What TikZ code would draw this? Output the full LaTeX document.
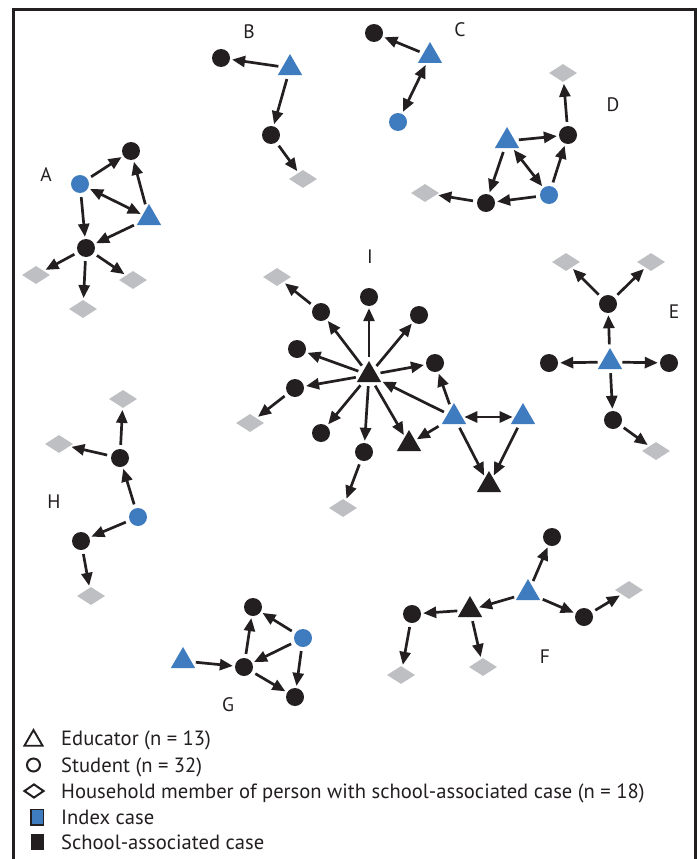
\documentclass[tikz,border=0pt]{standalone}
\usepackage{fontspec}
\setmainfont{PT Sans}
\usetikzlibrary{shapes.geometric,arrows.meta}
\definecolor{blu}{RGB}{63,124,191}
\definecolor{gry}{RGB}{190,191,195}
\definecolor{blk}{RGB}{35,31,32}
\begin{document}
\begin{tikzpicture}[x=1pt,y=-1pt,
 stu/.style={circle,fill=blk,minimum size=18pt,inner sep=0},
 ind/.style={circle,fill=blu,minimum size=18pt,inner sep=0},
 edu/.style={regular polygon,regular polygon sides=3,fill=blk,minimum size=28pt,inner sep=0},
 edi/.style={edu,fill=blu},
 hh/.style={diamond,fill=gry,minimum width=28pt,minimum height=18pt,inner sep=0},
 lab/.style={font=\fontsize{19.5}{22}\selectfont,text=blk,inner sep=0},
 legtxt/.style={font=\fontsize{20.6}{24}\selectfont,text=blk,anchor=base west,inner sep=0},
 arr/.style={draw=blk,line width=2.7pt,-{Triangle[length=13pt,width=11pt]},shorten >=2pt,shorten <=4pt},
 darr/.style={arr,{Triangle[length=13pt,width=11pt]}-{Triangle[length=13pt,width=11pt]},shorten <=2pt},
]
\fill[white] (0,0) rectangle (699,859);
\useasboundingbox (0,0) rectangle (699,859);
\draw[blk,line width=3pt] (13,862) -- (13,10) -- (695.5,10) -- (695.5,862);

% ---------- A ----------
\node[lab] (la) at (46,175) {A};
\node[ind] (a1) at (80,184) {};
\node[stu] (a2) at (131,151) {};
\node[edi] (a3) at (149,218) {};
\node[stu] (a4) at (86,248) {};
\node[hh] (a5) at (36,275) {};
\node[hh] (a6) at (133,280) {};
\node[hh] (a7) at (83,309) {};
\draw[arr] (a1) -- (a2);
\draw[arr] (a3) -- (a2);
\draw[darr] (a1) -- (a3);
\draw[arr] (a1) -- (a4);
\draw[arr] (a3) -- (a4);
\draw[arr] (a4) -- (a5);
\draw[arr] (a4) -- (a6);
\draw[arr] (a4) -- (a7);

% ---------- B ----------
\node[lab] (lb) at (249,32) {B};
\node[stu] (b1) at (221,58) {};
\node[edi] (b2) at (290,68) {};
\node[stu] (b3) at (271,135) {};
\node[hh] (b4) at (303,179) {};
\draw[arr] (b2) -- (b1);
\draw[arr] (b2) -- (b3);
\draw[arr] (b3) -- (b4);

% ---------- C ----------
\node[lab] (lc) at (460,30) {C};
\node[stu] (c1) at (374,33) {};
\node[edi] (c2) at (430,56) {};
\node[ind] (c3) at (398,122) {};
\draw[arr] (c2) -- (c1);
\draw[darr] (c2) -- (c3);

% ---------- D ----------
\node[lab] (ld) at (613,105) {D};
\node[hh] (d1) at (563,73) {};
\node[stu] (d2) at (568,135) {};
\node[edi] (d3) at (507,141) {};
\node[ind] (d4) at (549,195) {};
\node[stu] (d5) at (486,203) {};
\node[hh] (d6) at (425,193) {};
\draw[arr] (d3) -- (d2);
\draw[arr] (d2) -- (d1);
\draw[arr] (d4) -- (d2);
\draw[darr] (d3) -- (d4);
\draw[arr] (d3) -- (d5);
\draw[arr] (d4) -- (d5);
\draw[arr] (d5) -- (d6);

% ---------- E ----------
\node[lab] (le) at (674,312) {E};
\node[hh] (e1) at (566,262) {};
\node[hh] (e2) at (651,262) {};
\node[stu] (e3) at (608,304) {};
\node[edi] (e4) at (610,362) {};
\node[stu] (e5) at (549,363) {};
\node[stu] (e6) at (669,363) {};
\node[stu] (e7) at (613,420) {};
\node[hh] (e8) at (656,451) {};
\draw[arr] (e3) -- (e1);
\draw[arr] (e3) -- (e2);
\draw[arr] (e4) -- (e3);
\draw[arr] (e4) -- (e5);
\draw[arr] (e4) -- (e6);
\draw[arr] (e4) -- (e7);
\draw[arr] (e7) -- (e8);

% ---------- I ----------
\node[lab] (li) at (370,257) {I};
\node[edu] (i0) at (369,375) {};
\node[stu] (i1) at (369,297) {};
\node[stu] (i2) at (321,312) {};
\node[stu] (i3) at (419,315) {};
\node[stu] (i4) at (297,349) {};
\node[stu] (i5) at (435,363) {};
\node[stu] (i6) at (295,388) {};
\node[stu] (i7) at (321,433) {};
\node[stu] (i8) at (364,452) {};
\node[hh] (i9) at (277,277) {};
\node[hh] (i10) at (250,423) {};
\node[hh] (i11) at (343,508) {};
\node[edu] (i12) at (409,444) {};
\node[edi] (i13) at (454,417) {};
\node[edi] (i14) at (523,417) {};
\node[edu] (i15) at (489,485) {};
\foreach \t in {i1,i2,i3,i4,i5,i6,i7,i8,i12} \draw[arr] (i0) -- (\t);
\draw[arr] (i2) -- (i9);
\draw[arr] (i6) -- (i10);
\draw[arr] (i8) -- (i11);
\draw[arr] (i13) -- (i0);
\draw[arr] (i13) -- (i5);
\draw[arr] (i13) -- (i12);
\draw[darr] (i13) -- (i14);
\draw[arr] (i13) -- (i15);
\draw[arr] (i14) -- (i15);

% ---------- H ----------
\node[lab] (lh) at (54,502) {H};
\node[hh] (h1) at (123,399) {};
\node[hh] (h2) at (59,444) {};
\node[stu] (h3) at (120,458) {};
\node[ind] (h4) at (138,517) {};
\node[stu] (h5) at (81,541) {};
\node[hh] (h6) at (91,596) {};
\draw[arr] (h4) -- (h3);
\draw[arr] (h3) -- (h1);
\draw[arr] (h3) -- (h2);
\draw[arr] (h4) -- (h5);
\draw[arr] (h5) -- (h6);

% ---------- G ----------
\node[lab] (lg) at (228,705) {G};
\node[edi] (g1) at (183,661) {};
\node[stu] (g2) at (244,667) {};
\node[stu] (g3) at (253,607) {};
\node[ind] (g4) at (303,638) {};
\node[stu] (g5) at (295,697) {};
\draw[arr] (g1) -- (g2);
\draw[arr] (g2) -- (g3);
\draw[arr] (g4) -- (g3);
\draw[arr] (g4) -- (g2);
\draw[arr] (g4) -- (g5);
\draw[arr] (g2) -- (g5);

% ---------- F ----------
\node[lab] (lf) at (545,657) {F};
\node[stu] (f1) at (552,537) {};
\node[edi] (f2) at (528,593) {};
\node[edu] (f3) at (470,610) {};
\node[stu] (f4) at (412,614) {};
\node[stu] (f5) at (584,617) {};
\node[hh] (f6) at (629,590) {};
\node[hh] (f7) at (401,675) {};
\node[hh] (f8) at (483,667) {};
\draw[arr] (f2) -- (f1);
\draw[arr] (f2) -- (f3);
\draw[arr] (f2) -- (f5);
\draw[arr] (f5) -- (f6);
\draw[arr] (f3) -- (f4);
\draw[arr] (f3) -- (f8);
\draw[arr] (f4) -- (f7);

% ---------- Legend ----------
\node[regular polygon,regular polygon sides=3,draw=blk,line width=1.9pt,minimum size=21pt,inner sep=0] (k1) at (33.5,740.5) {};
\node[circle,draw=blk,line width=2pt,minimum size=13pt,inner sep=0] (k2) at (33.5,765) {};
\node[diamond,draw=blk,line width=2pt,minimum width=20pt,minimum height=14pt,inner sep=0] (k3) at (34,791) {};
\node[rectangle,fill=blu,draw=blk,line width=1.5pt,minimum width=12.5pt,minimum height=15.5pt,inner sep=0] (k4) at (37,817) {};
\node[rectangle,fill=blk,minimum width=13pt,minimum height=16pt,inner sep=0] (k5) at (37,842) {};
\node[legtxt] (t1) at (61,745) {Educator (n = 13)};
\node[legtxt] (t2) at (61,772) {Student (n = 32)};
\node[legtxt] (t3) at (61,798) {Household member of person with school-associated case (n = 18)};
\node[legtxt] (t4) at (61,824) {Index case};
\node[legtxt] (t5) at (61,849) {School-associated case};
\end{tikzpicture}
\end{document}
